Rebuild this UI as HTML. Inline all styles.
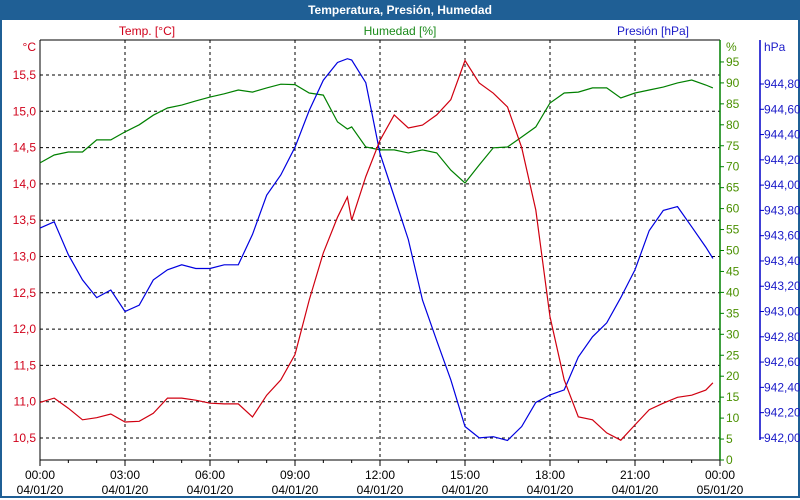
<!DOCTYPE html>
<html><head><meta charset="utf-8"><style>
body{margin:0;width:800px;height:500px;overflow:hidden;background:#fff;font-family:"Liberation Sans",sans-serif}
#frame{position:absolute;left:0;top:0;width:796px;height:496px;border:2px solid #1f5f95;border-top:none}
#title{position:absolute;left:0;top:0;width:800px;height:20px;background:#1f5f95;color:#fff;font-weight:bold;font-size:12px;line-height:20px;text-align:center}
</style></head><body>
<div id="frame"></div>
<div id="title">Temperatura, Presión, Humedad</div>
<svg id="chart" width="800" height="500" style="position:absolute;left:0;top:0"></svg>
<script>
const hours=[0,0.5,1,1.5,2,2.5,3,3.5,4,4.5,5,5.5,6,6.5,7,7.5,8,8.5,9,9.5,10,10.5,10.85,11,11.5,12,12.5,13,13.5,14,14.5,15,15.5,16,16.5,17,17.5,18,18.5,19,19.5,20,20.5,21,21.5,22,22.5,23,23.5,23.75];
const temp=[10.99,11.05,10.91,10.75,10.78,10.83,10.72,10.73,10.84,11.05,11.05,11.02,10.98,10.97,10.97,10.79,11.09,11.3,11.65,12.4,13.05,13.54,13.82,13.5,14.1,14.6,14.95,14.77,14.81,14.95,15.16,15.7,15.39,15.25,15.06,14.5,13.64,12.17,11.3,10.79,10.75,10.57,10.47,10.68,10.89,10.98,11.06,11.09,11.16,11.26];
const hum=[70.9,72.8,73.5,73.5,76.4,76.4,78.3,80,82.3,84,84.7,85.7,86.6,87.4,88.3,87.8,88.8,89.7,89.6,87.6,87.1,80.7,79,79.5,74.7,74,74,73.3,74,73.3,69.2,66.1,70.4,74.5,74.7,77.1,79.5,85.2,87.6,87.8,88.8,88.8,86.4,87.6,88.3,89,90,90.7,89.5,88.8];
const pres=[943.66,943.71,943.45,943.25,943.11,943.17,943.0,943.05,943.25,943.33,943.37,943.34,943.34,943.37,943.37,943.61,943.92,944.08,944.3,944.59,944.83,944.97,945.0,944.99,944.81,944.25,943.91,943.57,943.09,942.77,942.46,942.09,942.0,942.01,941.98,942.09,942.28,942.34,942.38,942.64,942.8,942.91,943.11,943.33,943.64,943.8,943.83,943.67,943.51,943.42];
const tempTicks=["10,5","11,0","11,5","12,0","12,5","13,0","13,5","14,0","14,5","15,0","15,5"];
const humTicks=[0,5,10,15,20,25,30,35,40,45,50,55,60,65,70,75,80,85,90,95];
const presTicks=["942,00","942,20","942,40","942,60","942,80","943,00","943,20","943,40","943,60","943,80","944,00","944,20","944,40","944,60","944,80"];
const timeLabels=["00:00","03:00","06:00","09:00","12:00","15:00","18:00","21:00","00:00"];
const dateLabels=["04/01/20","04/01/20","04/01/20","04/01/20","04/01/20","04/01/20","04/01/20","04/01/20","05/01/20"];

const L=40,R=720,T=40,B=460;
const xS=h=>L+h*(R-L)/24;
const yT=v=>75+(15.5-v)*72.6;
const yH=v=>B-v*4.19;
const yP=v=>84+(944.8-v)*126.4;
const svg=document.getElementById('chart');
const NS='http://www.w3.org/2000/svg';
function mk(tag,attrs,txt){const e=document.createElementNS(NS,tag);for(const k in attrs)e.setAttribute(k,attrs[k]);if(txt!==undefined)e.textContent=txt;svg.appendChild(e);return e;}

// grid
for(const t of tempTicks){const v=parseFloat(t.replace(',','.'));const y=yT(v);
 const g=mk('line',{x1:L,x2:R,y1:y,y2:y,stroke:'#000','stroke-dasharray':'3,3','stroke-width':1});
 
 
 const tl=mk('text',{x:36,y:y+4,'text-anchor':'end','font-size':12,fill:'#d0001a'},t);
 
 
}
for(let i=1;i<8;i++){const x=xS(i*3);
 const g=mk('line',{x1:x,x2:x,y1:T,y2:B,stroke:'#000','stroke-dasharray':'3,3'});
 
 
}
timeLabels.forEach((t,i)=>{const x=xS(i*3);
 const a=mk('text',{x:x,y:479,'text-anchor':'middle','font-size':12,fill:'#000'},t);
 
 
 const b=mk('text',{x:x,y:494,'text-anchor':'middle','font-size':12,fill:'#000'},dateLabels[i]);
 
 
});
for(let i=0;i<=24;i++){const x=xS(i);
 const tk=mk('line',{x1:x,x2:x,y1:B,y2:B+(i%3?3:6),stroke:'#000'});
 
 
}
// axes
let a1=mk('line',{x1:L,x2:L,y1:T,y2:B,stroke:'#000'});
let a0=mk('line',{x1:L,x2:R,y1:T,y2:T,stroke:'#000'});
let a2=mk('line',{x1:L,x2:R,y1:B,y2:B,stroke:'#000'});
let a3=mk('line',{x1:R,x2:R,y1:T,y2:B,stroke:'#008000','stroke-width':1.5});
let a4=mk('line',{x1:760,x2:760,y1:T,y2:B-20,stroke:'#0000c8','stroke-width':1.5});
humTicks.forEach(v=>{const y=yH(v);
 const tk=mk('line',{x1:R,x2:R+4,y1:y,y2:y,stroke:'#008000'});
 
 
 const tl=mk('text',{x:726,y:y+4,'font-size':12,fill:'#4a9000'},String(v));
 
 
});
presTicks.forEach(t=>{const y=yP(parseFloat(t.replace(',','.')));
 const tk=mk('line',{x1:760,x2:764,y1:y,y2:y,stroke:'#0000c8'});
 
 
 const tl=mk('text',{x:764,y:y+4,'font-size':12,fill:'#1a1ac8'},t);
 
 
});
let u1=mk('text',{x:36,y:51,'text-anchor':'end','font-size':12,fill:'#d0001a'},'°C');
let u2=mk('text',{x:726,y:51,'font-size':12,fill:'#4a9000'},'%');
let u3=mk('text',{x:764,y:51,'font-size':12,fill:'#1a1ac8'},'hPa');
let s1=mk('text',{x:147,y:35,'text-anchor':'middle','font-size':12,fill:'#d0001a'},'Temp. [°C]');
let s2=mk('text',{x:400,y:35,'text-anchor':'middle','font-size':12,fill:'#1a8a1a'},'Humedad [%]');
let s3=mk('text',{x:653,y:35,'text-anchor':'middle','font-size':12,fill:'#1a1ac8'},'Presión [hPa]');

function line(arr,yf,col,name){
 const d=arr.map((v,i)=>(i?'L':'M')+xS(hours[i]).toFixed(1)+','+yf(v).toFixed(1)).join(' ');
 const p=mk('path',{d:d,fill:'none',stroke:col,'stroke-width':1.2});
 
 
}
line(hum,yH,'#008000','humidity-line');
line(pres,yP,'#0000e0','pressure-line');
line(temp,yT,'#d00010','temperature-line');
</script>
</body></html>
